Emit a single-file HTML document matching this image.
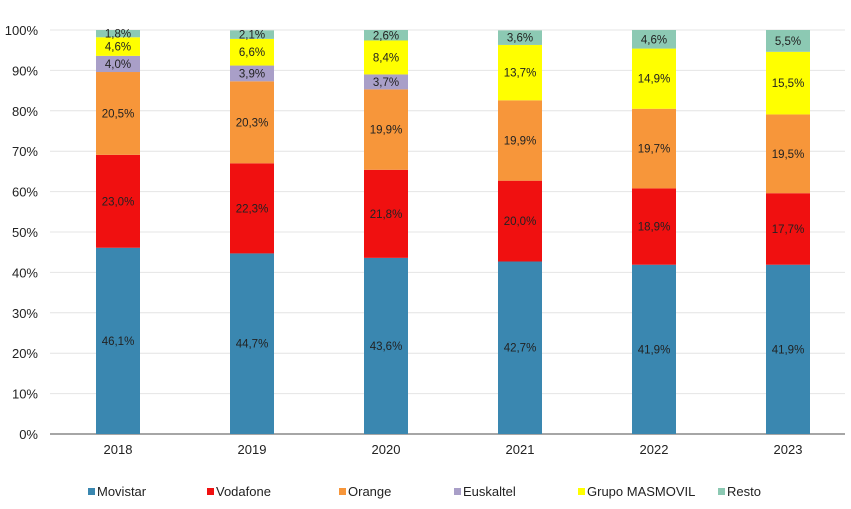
<!DOCTYPE html>
<html><head><meta charset="utf-8"><style>
body{margin:0;background:#fff;}
svg{display:block;font-family:"Liberation Sans",Arial,sans-serif;}
</style></head><body>
<svg id="c" width="851" height="509"></svg>
<script>
const years=["2018","2019","2020","2021","2022","2023"];
const movistar=[46.1,44.7,43.6,42.7,41.9,41.9];
const vodafone=[23.0,22.3,21.8,20.0,18.9,17.7];
const orange=[20.5,20.3,19.9,19.9,19.7,19.5];
const euskaltel=[4.0,3.9,3.7,0,0,0];
const masmovil=[4.6,6.6,8.4,13.7,14.9,15.5];
const resto=[1.8,2.1,2.6,3.6,4.6,5.5];
const yTicks=[0,10,20,30,40,50,60,70,80,90,100];
const seriesNames=["Movistar","Vodafone","Orange","Euskaltel","Grupo MASMOVIL","Resto"];
const colors=["#3a87b0","#f01010","#f7963a","#a99fc8","#ffff00","#8cc9b3"];
const series=[movistar,vodafone,orange,euskaltel,masmovil,resto];
const NS="http://www.w3.org/2000/svg";
const svg=document.getElementById('c');
const y0=434,y100=30,x0=50,x1=845,step=134,firstX=118,bw=44;
const y=v=>y0-(y0-y100)*Math.min(v,100)/100;
const xc=i=>firstX+i*step;
function mk(t,a,p){const e=document.createElementNS(NS,t);for(const k in a)e.setAttribute(k,a[k]);(p||svg).appendChild(e);return e;}
yTicks.forEach(t=>{
  const g=mk('line',{x1:x0,x2:x1,y1:y(t),y2:y(t),stroke:t===0?'#888':'#e4e4e4','stroke-width':t===0?1.5:1});
  
  
  const l=mk('text',{x:38,y:y(t)+5,'text-anchor':'end','font-size':13,fill:'#222'});
  l.textContent=t+'%';
  
  
});
years.forEach((yr,i)=>{
  let cum=0;
  series.forEach((s,k)=>{
    const v=s[i]; if(!v){return;}
    const top=y(cum+v),bot=y(cum);
    const r=mk('rect',{x:xc(i)-bw/2,y:top,width:bw,height:Math.max(0,bot-top),fill:colors[k]});
    
    
    const t=mk('text',{x:xc(i),y:(top+bot)/2+4,'text-anchor':'middle','font-size':11.5,fill:'#222'});
    t.textContent=v.toFixed(1).replace('.',',')+'%';
    
    
    cum+=v;
  });
  const xl=mk('text',{x:xc(i),y:454,'text-anchor':'middle','font-size':13,fill:'#222'});
  xl.textContent=yr;
  
  
});
const lx=[88,207,339,454,578,718];
seriesNames.forEach((n,k)=>{
  const g=mk('g',{});
  
  
  mk('rect',{x:lx[k],y:488,width:7,height:7,fill:colors[k]},g);
  const t=mk('text',{x:lx[k]+9,y:496,'font-size':13,fill:'#222'},g);
  t.textContent=n;
});
</script>
</body></html>
